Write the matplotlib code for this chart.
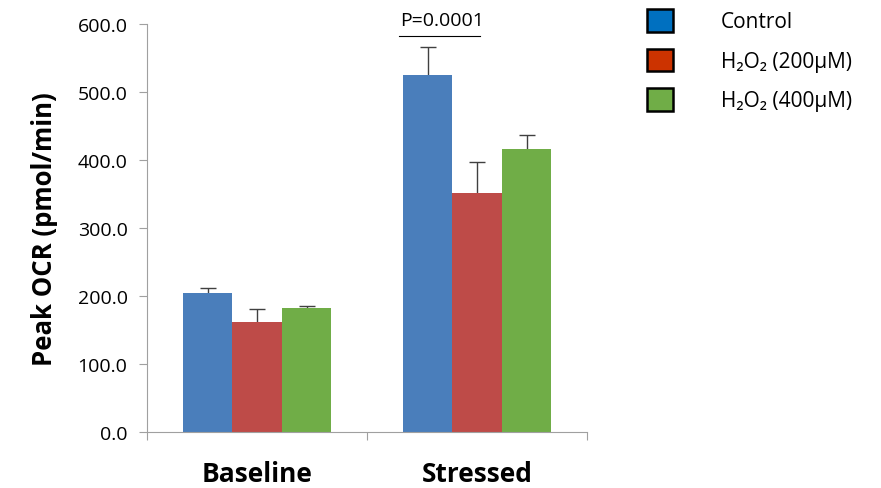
import matplotlib.pyplot as plt
import numpy as np
from matplotlib.patches import Patch

plt.rcParams['font.family'] = ['Open Sans', 'DejaVu Sans']

categories = ['Baseline', 'Stressed']
series = ['Control', 'H₂O₂ (200μM)', 'H₂O₂ (400μM)']
values = {
    'Control': [204, 525],
    'H₂O₂ (200μM)': [162, 351],
    'H₂O₂ (400μM)': [183, 416],
}
errors = {
    'Control': [8, 41],
    'H₂O₂ (200μM)': [19, 46],
    'H₂O₂ (400μM)': [2, 21],
}
bar_colors = ['#4A7EBB', '#BE4B48', '#70AD47']
legend_colors = ['#0070C0', '#CC3300', '#70AD47']
p_text = 'P=0.0001'

fig = plt.figure(figsize=(8.81, 4.89), dpi=100)
ax = fig.add_axes([147/881, 56/489, 440/881, 408/489])

x = np.arange(len(categories))
width = 0.225
for i, name in enumerate(series):
    pos = x + (i - 1) * width
    ax.bar(pos, values[name], width, color=bar_colors[i], zorder=2)
    eb = ax.errorbar(pos, values[name], yerr=[np.zeros(len(categories)), errors[name]],
                     fmt='none', ecolor='#404040', elinewidth=1, capsize=6, capthick=1, zorder=1)
    eb[1][0].set_visible(False)  # no cap at the bar top

ax.set_xlim(-0.5, 1.5)
ax.set_ylim(0, 600)
ax.set_yticks(np.arange(0, 601, 100))
ax.set_yticklabels([f'{v:.1f}' for v in np.arange(0, 601, 100)], fontsize=14)
ax.set_xticks([-0.5, 0.5, 1.5])
ax.set_xticklabels([])
ax.set_xticks(x, minor=True)
ax.set_xticklabels(categories, minor=True, fontsize=19, fontweight='bold')
ax.tick_params(axis='x', which='minor', length=0, pad=20)
ax.tick_params(axis='x', which='major', length=6, color='#A0A0A0')
ax.tick_params(axis='y', length=6, color='#A0A0A0', pad=8)
ax.set_ylabel('Peak OCR (pmol/min)', fontsize=18.5, fontweight='bold', labelpad=14)

for side in ['top', 'right']:
    ax.spines[side].set_visible(False)
for side in ['left', 'bottom']:
    ax.spines[side].set_color('#A0A0A0')

# significance line over stressed Control vs 200uM
xs = [x[1] - width * 1.58, x[1] + width * 0.06]
ax.plot(xs, [582, 582], color='black', lw=0.8, clip_on=False)
ax.text(xs[0] + 0.005, 593, p_text, fontsize=14, ha='left', va='bottom')

handles = [Patch(facecolor=c, edgecolor='black', linewidth=1.8) for c in legend_colors]
fig.legend(handles, series, loc='upper left', bbox_to_anchor=(628/881, 1.018),
           frameon=False, fontsize=15, handlelength=1.25, handleheight=1.3,
           handletextpad=2.3, labelspacing=0.78)

fig.savefig('out.png', dpi=100)
